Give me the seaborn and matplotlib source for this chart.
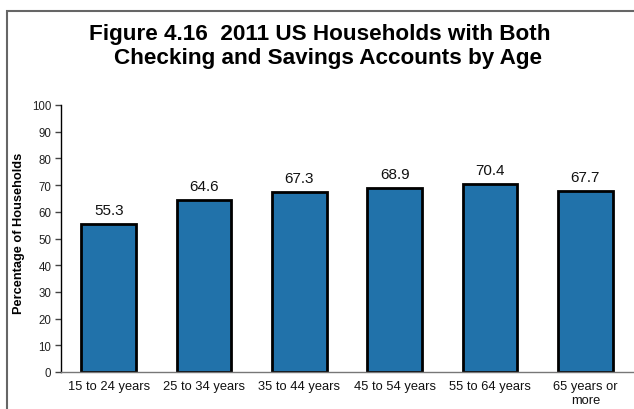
import matplotlib
matplotlib.use("Agg")
import matplotlib.pyplot as plt
import seaborn as sns
import pandas as pd
from matplotlib.patches import Rectangle

categories = ["15 to 24 years", "25 to 34 years", "35 to 44 years",
              "45 to 54 years", "55 to 64 years", "65 years or\nmore"]
values = [55.3, 64.6, 67.3, 68.9, 70.4, 67.7]
yticks = [0, 10, 20, 30, 40, 50, 60, 70, 80, 90, 100]
title_lines = ["Figure 4.16  2011 US Households with Both",
               "Checking and Savings Accounts by Age"]

sns.set_style("white")
plt.rcParams['font.family'] = ['Liberation Sans', 'DejaVu Sans']
plt.rcParams['text.color'] = 'black'
plt.rcParams['axes.labelcolor'] = 'black'

df = pd.DataFrame({"cat": categories, "val": values})

W, H = 634, 410
fig = plt.figure(figsize=(W / 100, H / 100), dpi=100)
ax = fig.add_axes([61 / W, 1 - 373 / H, (633 - 61) / W, (373 - 106) / H])

sns.barplot(data=df, x="cat", y="val", ax=ax, color="#2172aa", saturation=1,
            width=0.57, edgecolor="black", linewidth=2)

ax.set_ylim(0, 100)
ax.set_xlim(-0.5, len(categories) - 0.5)
ax.set_yticks(yticks)
ax.set_yticklabels([str(t) for t in yticks], fontsize=8.3, color="#222222")
ax.set_xticks(range(len(categories)))
ax.set_xticklabels(categories, fontsize=9.3, color="#111111", linespacing=1.2)
ax.set_xticks([i - 0.5 for i in range(len(categories) + 1)], minor=True)
ax.tick_params(axis="x", which="major", length=0, pad=6)
ax.tick_params(axis="x", which="minor", length=5, width=1, color="#777777", direction="out")
ax.tick_params(axis="y", length=4, width=1, color="#444444", direction="out", pad=3, left=True)

ax.set_xlabel("")
ax.set_ylabel("Percentage of Households", fontsize=9.2, fontweight="bold", color="black")
ax.yaxis.set_label_coords((25 - 61) / (633 - 61), (373 - 233) / (373 - 106))

for s in ["top", "right"]:
    ax.spines[s].set_visible(False)
ax.spines["left"].set_color("black")
ax.spines["left"].set_linewidth(1)
ax.spines["bottom"].set_color("#777777")
ax.spines["bottom"].set_linewidth(1)

for i, v in enumerate(values):
    ax.text(i, v + 2.6, f"{v:.1f}", ha="center", va="bottom", fontsize=11, color="#111111")

fig.text(320 / W, 1 - 40 / H, title_lines[0], ha="center", va="baseline",
         fontsize=16.2, fontweight="bold", color="black")
fig.text(328.5 / W, 1 - 64 / H, title_lines[1], ha="center", va="baseline",
         fontsize=16.2, fontweight="bold", color="black")

border = Rectangle((7 / W, -0.1), 1.2, (1 - 12 / H) + 0.1, transform=fig.transFigure,
                   fill=False, edgecolor="#666666", linewidth=1.5, clip_on=False)
fig.patches.append(border)

fig.savefig("out.png", dpi=100)
